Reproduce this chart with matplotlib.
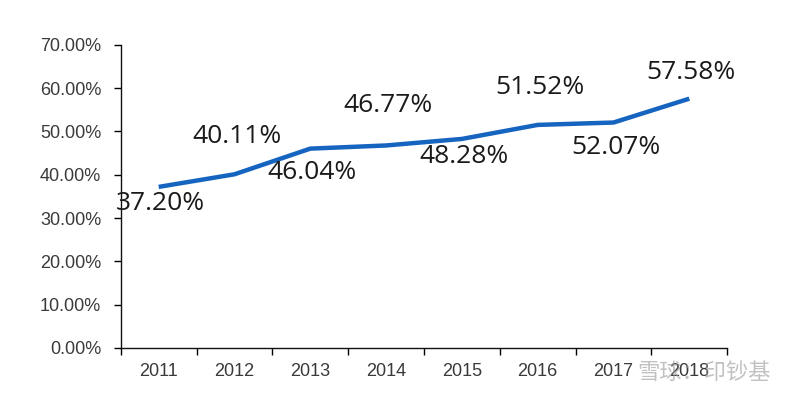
import matplotlib.pyplot as plt
import numpy as np

years = ["2011", "2012", "2013", "2014", "2015", "2016", "2017", "2018"]
ratio = [37.20, 40.11, 46.04, 46.77, 48.28, 51.52, 52.07, 57.58]
# label offsets in points (negative = below the line)
label_dy = [-12, 27, -17, 29, -13, 27, -18, 19]

fig = plt.figure(figsize=(8, 3.94), dpi=100)
ax = fig.add_axes([0.151, 0.117, 0.758, 0.769])

x = np.arange(len(years))
ax.plot(x, ratio, color="#1565c0", lw=3.2, solid_capstyle="butt", solid_joinstyle="round")

for xi, v, dy in zip(x, ratio, label_dy):
    ax.annotate(f"{v:.2f}%", (xi, v), xytext=(1.5, dy), textcoords="offset points",
                ha="center", va="center", fontsize=19, family="Open Sans",
                color="#1a1a1a")

ax.set_xlim(-0.5, len(years) - 0.5)
ax.set_ylim(0, 70)
ax.set_yticks(np.arange(0, 71, 10))
ax.set_yticklabels([f"{t:.2f}%" for t in range(0, 71, 10)])
ax.set_xticks(np.arange(-0.5, len(years), 1))
ax.set_xticklabels([])
ax.set_xticks(x, minor=True)
ax.set_xticklabels(years, minor=True)
ax.tick_params(axis="x", which="minor", length=0, pad=11)
ax.tick_params(axis="x", which="major", length=5, direction="out", width=1)
ax.tick_params(axis="y", length=5, width=1, direction="out", pad=9)
for lab in ax.get_yticklabels() + ax.get_xticklabels(minor=True):
    lab.set_family("Liberation Sans")
    lab.set_fontsize(13)
    lab.set_color("#3a3a3a")

for s in ["top", "right"]:
    ax.spines[s].set_visible(False)
for s in ["left", "bottom"]:
    ax.spines[s].set_linewidth(1)
    ax.spines[s].set_color("#111111")

# watermark
fig.text(0.797, 0.055, "雪球：印钞基", family=["Noto Sans CJK SC", "DejaVu Sans"],
         fontsize=16, color="#999999", alpha=0.6, ha="left", va="center")

fig.savefig("out.png", dpi=100)
